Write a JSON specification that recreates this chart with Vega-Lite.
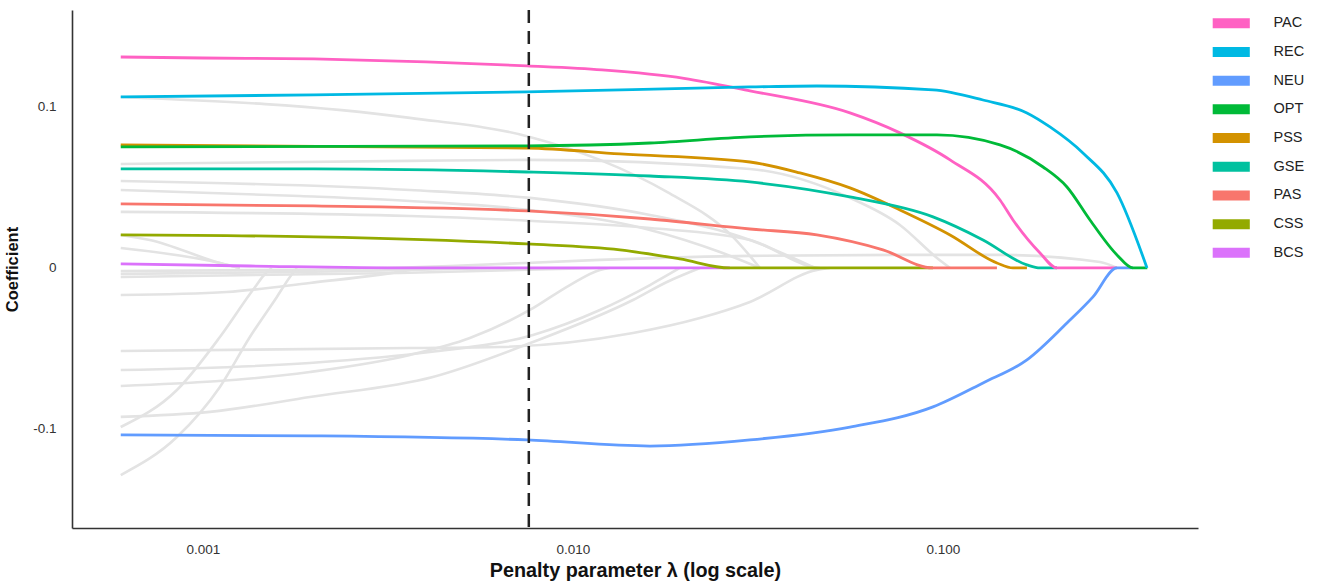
{
  "$schema": "https://vega.github.io/schema/vega-lite/v6.json",
  "width": 1126,
  "height": 518,
  "autosize": {"type": "none"},
  "padding": {"left": 72, "top": 10, "right": 132, "bottom": 55},
  "background": "white",
  "config": {
    "view": {"stroke": null},
    "font": "Liberation Sans",
    "axis": {
      "grid": false, "ticks": false, "domainColor": "#333333", "domainWidth": 1.6,
      "labelColor": "#333333", "labelFontSize": 13.5, "labelFont": "Liberation Sans",
      "titleFont": "Liberation Sans", "titleFontWeight": "bold", "titleColor": "#111111"
    },
    "legend": {"labelFont": "Liberation Sans"}
  },
  "datasets": {
    "paths": [
      {"v": "G1", "lam": 0.0006, "coef": 0.1062}, {"v": "G1", "lam": 0.003627, "coef": 0.0932}, {"v": "G1", "lam": 0.00765, "coef": 0.0814}, {"v": "G1", "lam": 0.01183, "coef": 0.0671}, {"v": "G1", "lam": 0.01795, "coef": 0.0472}, {"v": "G1", "lam": 0.02706, "coef": 0.0193}, {"v": "G1", "lam": 0.03202, "coef": 0},
      {"v": "G2", "lam": 0.0006, "coef": 0.0646}, {"v": "G2", "lam": 0.003627, "coef": 0.0665}, {"v": "G2", "lam": 0.00765, "coef": 0.0671}, {"v": "G2", "lam": 0.03009, "coef": 0.0615}, {"v": "G2", "lam": 0.05606, "coef": 0.0435}, {"v": "G2", "lam": 0.0765, "coef": 0.0267}, {"v": "G2", "lam": 0.09634, "coef": 0.0062}, {"v": "G2", "lam": 0.1045, "coef": 0},
      {"v": "G3", "lam": 0.0006, "coef": 0.054}, {"v": "G3", "lam": 0.003627, "coef": 0.0484}, {"v": "G3", "lam": 0.00765, "coef": 0.0435}, {"v": "G3", "lam": 0.01615, "coef": 0.0329}, {"v": "G3", "lam": 0.03009, "coef": 0.0174}, {"v": "G3", "lam": 0.04508, "coef": 0},
      {"v": "G4", "lam": 0.0006, "coef": 0.0484}, {"v": "G4", "lam": 0.001829, "coef": 0.0447}, {"v": "G4", "lam": 0.003627, "coef": 0.0416}, {"v": "G4", "lam": 0.00765, "coef": 0.036}, {"v": "G4", "lam": 0.01615, "coef": 0.0236}, {"v": "G4", "lam": 0.02496, "coef": 0.0099}, {"v": "G4", "lam": 0.03202, "coef": 0},
      {"v": "G5", "lam": 0.0006, "coef": 0.0348}, {"v": "G5", "lam": 0.003627, "coef": 0.0323}, {"v": "G5", "lam": 0.0078, "coef": 0.0292}, {"v": "G5", "lam": 0.01615, "coef": 0.0248}, {"v": "G5", "lam": 0.03009, "coef": 0.0174}, {"v": "G5", "lam": 0.04454, "coef": 0.0006}, {"v": "G5", "lam": 0.04651, "coef": 0},
      {"v": "G6", "lam": 0.0006, "coef": 0.0124}, {"v": "G6", "lam": 0.001112, "coef": 0.0031}, {"v": "G6", "lam": 0.001259, "coef": 0},
      {"v": "G17", "lam": 0.0006, "coef": 0.0205}, {"v": "G17", "lam": 0.000719, "coef": 0.0174}, {"v": "G17", "lam": 0.001112, "coef": 0.0031}, {"v": "G17", "lam": 0.001259, "coef": 0},
      {"v": "G7", "lam": 0.0006, "coef": -0.0019}, {"v": "G7", "lam": 0.001829, "coef": -0.0012}, {"v": "G7", "lam": 0.004651, "coef": 0.0012}, {"v": "G7", "lam": 0.01183, "coef": 0.005}, {"v": "G7", "lam": 0.03009, "coef": 0.0075}, {"v": "G7", "lam": 0.0765, "coef": 0.0081}, {"v": "G7", "lam": 0.1426, "coef": 0.0081}, {"v": "G7", "lam": 0.2656, "coef": 0.0037}, {"v": "G7", "lam": 0.2953, "coef": 0},
      {"v": "G8", "lam": 0.0006, "coef": -0.0168}, {"v": "G8", "lam": 0.001161, "coef": -0.0149}, {"v": "G8", "lam": 0.001946, "coef": -0.0093}, {"v": "G8", "lam": 0.003627, "coef": -0.0012}, {"v": "G8", "lam": 0.003859, "coef": 0},
      {"v": "G9", "lam": 0.0006, "coef": -0.0516}, {"v": "G9", "lam": 0.003627, "coef": -0.0497}, {"v": "G9", "lam": 0.00635, "coef": -0.0491}, {"v": "G9", "lam": 0.01453, "coef": -0.0404}, {"v": "G9", "lam": 0.02204, "coef": -0.0311}, {"v": "G9", "lam": 0.03009, "coef": -0.0211}, {"v": "G9", "lam": 0.04565, "coef": -0.0012}, {"v": "G9", "lam": 0.04949, "coef": 0},
      {"v": "Ga", "lam": 0.0006, "coef": -0.0634}, {"v": "Ga", "lam": 0.001946, "coef": -0.059}, {"v": "Ga", "lam": 0.004107, "coef": -0.0522}, {"v": "Ga", "lam": 0.0078, "coef": -0.0416}, {"v": "Ga", "lam": 0.01183, "coef": -0.0261}, {"v": "Ga", "lam": 0.01615, "coef": -0.0106}, {"v": "Ga", "lam": 0.01946, "coef": 0},
      {"v": "Gb", "lam": 0.0006, "coef": -0.0733}, {"v": "Gb", "lam": 0.001946, "coef": -0.0646}, {"v": "Gb", "lam": 0.003627, "coef": -0.054}, {"v": "Gb", "lam": 0.005267, "coef": -0.0435}, {"v": "Gb", "lam": 0.00765, "coef": -0.0261}, {"v": "Gb", "lam": 0.009815, "coef": -0.0106}, {"v": "Gb", "lam": 0.01183, "coef": -0.0012}, {"v": "Gb", "lam": 0.01259, "coef": 0},
      {"v": "Gc", "lam": 0.0006, "coef": -0.0925}, {"v": "Gc", "lam": 0.001045, "coef": -0.0894}, {"v": "Gc", "lam": 0.001946, "coef": -0.0801}, {"v": "Gc", "lam": 0.004183, "coef": -0.0677}, {"v": "Gc", "lam": 0.0078, "coef": -0.046}, {"v": "Gc", "lam": 0.01453, "coef": -0.0199}, {"v": "Gc", "lam": 0.01795, "coef": -0.0087}, {"v": "Gc", "lam": 0.02204, "coef": 0},
      {"v": "G13", "lam": 0.0006, "coef": -0.0988}, {"v": "G13", "lam": 0.000851, "coef": -0.0758}, {"v": "G13", "lam": 0.001112, "coef": -0.0429}, {"v": "G13", "lam": 0.001365, "coef": -0.0137}, {"v": "G13", "lam": 0.001489, "coef": -0.0025}, {"v": "G13", "lam": 0.001536, "coef": 0},
      {"v": "G14", "lam": 0.0006, "coef": -0.1286}, {"v": "G14", "lam": 0.000851, "coef": -0.105}, {"v": "G14", "lam": 0.001112, "coef": -0.0739}, {"v": "G14", "lam": 0.00134, "coef": -0.0429}, {"v": "G14", "lam": 0.001585, "coef": -0.018}, {"v": "G14", "lam": 0.001719, "coef": -0.0056}, {"v": "G14", "lam": 0.001795, "coef": 0},
      {"v": "G15", "lam": 0.0006, "coef": -0.0037}, {"v": "G15", "lam": 0.001829, "coef": -0.0025}, {"v": "G15", "lam": 0.003627, "coef": -0.0012}, {"v": "G15", "lam": 0.00635, "coef": 0},
      {"v": "G16", "lam": 0.0006, "coef": -0.0056}, {"v": "G16", "lam": 0.003408, "coef": -0.0031}, {"v": "G16", "lam": 0.01183, "coef": 0},
      {"v": "BCS", "lam": 0.0006, "coef": 0.0025}, {"v": "BCS", "lam": 0.00134, "coef": 0.0012}, {"v": "BCS", "lam": 0.003627, "coef": 0}, {"v": "BCS", "lam": 0.02656, "coef": 0},
      {"v": "CSS", "lam": 0.0006, "coef": 0.0205}, {"v": "CSS", "lam": 0.001995, "coef": 0.0193}, {"v": "CSS", "lam": 0.007511, "coef": 0.0149}, {"v": "CSS", "lam": 0.0134, "coef": 0.0112}, {"v": "CSS", "lam": 0.01946, "coef": 0.0056}, {"v": "CSS", "lam": 0.02656, "coef": 0}, {"v": "CSS", "lam": 0.09397, "coef": 0},
      {"v": "PAS", "lam": 0.0006, "coef": 0.0398}, {"v": "PAS", "lam": 0.001995, "coef": 0.0385}, {"v": "PAS", "lam": 0.007511, "coef": 0.0354}, {"v": "PAS", "lam": 0.01615, "coef": 0.0304}, {"v": "PAS", "lam": 0.03009, "coef": 0.0242}, {"v": "PAS", "lam": 0.04565, "coef": 0.0205}, {"v": "PAS", "lam": 0.06884, "coef": 0.0112}, {"v": "PAS", "lam": 0.09397, "coef": 0}, {"v": "PAS", "lam": 0.1399, "coef": 0},
      {"v": "PSS", "lam": 0.0006, "coef": 0.0764}, {"v": "PSS", "lam": 0.007511, "coef": 0.0745}, {"v": "PSS", "lam": 0.0134, "coef": 0.0708}, {"v": "PSS", "lam": 0.03009, "coef": 0.0658}, {"v": "PSS", "lam": 0.04108, "coef": 0.059}, {"v": "PSS", "lam": 0.05606, "coef": 0.0497}, {"v": "PSS", "lam": 0.0765, "coef": 0.036}, {"v": "PSS", "lam": 0.1045, "coef": 0.0205}, {"v": "PSS", "lam": 0.1399, "coef": 0.0031}, {"v": "PSS", "lam": 0.1546, "coef": 0}, {"v": "PSS", "lam": 0.1686, "coef": 0},
      {"v": "GSE", "lam": 0.0006, "coef": 0.0615}, {"v": "GSE", "lam": 0.001995, "coef": 0.0615}, {"v": "GSE", "lam": 0.007511, "coef": 0.0596}, {"v": "GSE", "lam": 0.01615, "coef": 0.0571}, {"v": "GSE", "lam": 0.03009, "coef": 0.0534}, {"v": "GSE", "lam": 0.05606, "coef": 0.0441}, {"v": "GSE", "lam": 0.09397, "coef": 0.0317}, {"v": "GSE", "lam": 0.1283, "coef": 0.0174}, {"v": "GSE", "lam": 0.1686, "coef": 0.0019}, {"v": "GSE", "lam": 0.1829, "coef": 0}, {"v": "GSE", "lam": 0.2033, "coef": 0},
      {"v": "PAC", "lam": 0.0006, "coef": 0.131}, {"v": "PAC", "lam": 0.001, "coef": 0.1304}, {"v": "PAC", "lam": 0.001995, "coef": 0.1298}, {"v": "PAC", "lam": 0.004006, "coef": 0.128}, {"v": "PAC", "lam": 0.007511, "coef": 0.1255}, {"v": "PAC", "lam": 0.01198, "coef": 0.123}, {"v": "PAC", "lam": 0.01995, "coef": 0.1178}, {"v": "PAC", "lam": 0.03009, "coef": 0.1100}, {"v": "PAC", "lam": 0.05606, "coef": 0.0963}, {"v": "PAC", "lam": 0.0765, "coef": 0.0839}, {"v": "PAC", "lam": 0.1045, "coef": 0.0671}, {"v": "PAC", "lam": 0.1426, "coef": 0.0422}, {"v": "PAC", "lam": 0.1546, "coef": 0.0298}, {"v": "PAC", "lam": 0.1829, "coef": 0.0093}, {"v": "PAC", "lam": 0.2033, "coef": 0}, {"v": "PAC", "lam": 0.2953, "coef": 0},
      {"v": "NEU", "lam": 0.0006, "coef": -0.1037}, {"v": "NEU", "lam": 0.001995, "coef": -0.1043}, {"v": "NEU", "lam": 0.007511, "coef": -0.1068}, {"v": "NEU", "lam": 0.01615, "coef": -0.1106}, {"v": "NEU", "lam": 0.03009, "coef": -0.1068}, {"v": "NEU", "lam": 0.05606, "coef": -0.0988}, {"v": "NEU", "lam": 0.09397, "coef": -0.0863}, {"v": "NEU", "lam": 0.1283, "coef": -0.0714}, {"v": "NEU", "lam": 0.1686, "coef": -0.0571}, {"v": "NEU", "lam": 0.2163, "coef": -0.0342}, {"v": "NEU", "lam": 0.2543, "coef": -0.018}, {"v": "NEU", "lam": 0.2953, "coef": 0}, {"v": "NEU", "lam": 0.3262, "coef": 0},
      {"v": "OPT", "lam": 0.0006, "coef": 0.0752}, {"v": "OPT", "lam": 0.007511, "coef": 0.0758}, {"v": "OPT", "lam": 0.01615, "coef": 0.0776}, {"v": "OPT", "lam": 0.03009, "coef": 0.0814}, {"v": "OPT", "lam": 0.05606, "coef": 0.0826}, {"v": "OPT", "lam": 0.09634, "coef": 0.0826}, {"v": "OPT", "lam": 0.1426, "coef": 0.0764}, {"v": "OPT", "lam": 0.1864, "coef": 0.0627}, {"v": "OPT", "lam": 0.2163, "coef": 0.0503}, {"v": "OPT", "lam": 0.2496, "coef": 0.0298}, {"v": "OPT", "lam": 0.2953, "coef": 0.0081}, {"v": "OPT", "lam": 0.3262, "coef": 0}, {"v": "OPT", "lam": 0.3566, "coef": 0},
      {"v": "REC", "lam": 0.0006, "coef": 0.1062}, {"v": "REC", "lam": 0.001995, "coef": 0.1075}, {"v": "REC", "lam": 0.007511, "coef": 0.1093}, {"v": "REC", "lam": 0.03009, "coef": 0.1124}, {"v": "REC", "lam": 0.04565, "coef": 0.113}, {"v": "REC", "lam": 0.09397, "coef": 0.1106}, {"v": "REC", "lam": 0.1283, "coef": 0.1043}, {"v": "REC", "lam": 0.1686, "coef": 0.0963}, {"v": "REC", "lam": 0.1946, "coef": 0.0876}, {"v": "REC", "lam": 0.2389, "coef": 0.0714}, {"v": "REC", "lam": 0.2953, "coef": 0.0466}, {"v": "REC", "lam": 0.3559, "coef": 0}
    ],
    "vline": [{"lam": 0.0076}]
  },
  "layer": [
    {
      "data": {"name": "paths"},
      "transform": [{"filter": {"field": "v", "oneOf": ["G1","G2","G3","G4","G5","G6","G17","G7","G8","G9","Ga","Gb","Gc","G13","G14","G15","G16"]}}],
      "mark": {"type": "line", "color": "#e3e3e3", "strokeWidth": 2.6, "interpolate": "monotone"},
      "encoding": {
        "x": {"field": "lam", "type": "quantitative"},
        "y": {"field": "coef", "type": "quantitative"},
        "detail": {"field": "v"}
      }
    },
    {
      "data": {"name": "paths"},
      "transform": [{"filter": {"field": "v", "oneOf": ["PAC","REC","NEU","OPT","PSS","GSE","PAS","CSS","BCS"]}}],
      "mark": {"type": "line", "strokeWidth": 2.8, "interpolate": "monotone"},
      "encoding": {
        "x": {"field": "lam", "type": "quantitative",
          "scale": {"type": "log", "domain": [0.000443, 0.4888], "nice": false},
          "axis": {"values": [0.001, 0.01, 0.1], "format": ".3f", "labelPadding": 14, "titlePadding": 5, "titleFontSize": 19.8},
          "title": "Penalty parameter λ (log scale)"},
        "y": {"field": "coef", "type": "quantitative",
          "scale": {"domain": [-0.1615, 0.1602], "nice": false, "zero": false},
          "axis": {"values": [-0.1, 0, 0.1], "labelExpr": "datum.value == 0 ? '0' : (datum.value < 0 ? '-0.1' : '0.1')", "labelPadding": 16, "titlePadding": 12, "titleFontSize": 16.5},
          "title": "Coefficient"},
        "color": {"field": "v", "type": "nominal",
          "scale": {"domain": ["PAC","REC","NEU","OPT","PSS","GSE","PAS","CSS","BCS"],
                    "range": ["#FF61C3","#00B9E3","#619CFF","#00BA38","#D39200","#00C19F","#F8766D","#93AA00","#DB72FB"]},
          "legend": {"title": null, "orient": "none", "legendX": 1152, "legendY": 6,
            "symbolType": "M-4,-1.08H4V1.08H-4Z", "symbolSize": 86, "symbolStrokeWidth": 0,
            "labelFontSize": 14.5, "labelColor": "#222222", "labelOffset": 35, "rowPadding": 13.7,
            "encode": {"symbols": {"update": {"fill": {"scale": "color", "field": "value"}, "fillOpacity": {"value": 1}, "strokeWidth": {"value": 0}}}}}}
      }
    },
    {
      "data": {"name": "vline"},
      "mark": {"type": "rule", "color": "#222222", "strokeWidth": 2.5, "strokeDash": [13, 8]},
      "encoding": {"x": {"field": "lam", "type": "quantitative"}}
    }
  ]
}
